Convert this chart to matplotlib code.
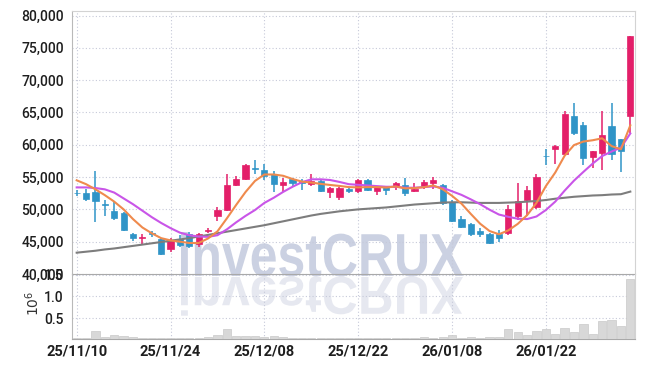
import numpy as np
import matplotlib
matplotlib.use('Agg')
import matplotlib.pyplot as plt
from matplotlib.textpath import TextPath
from matplotlib.patches import PathPatch
from matplotlib.font_manager import FontProperties
from matplotlib.transforms import Affine2D

# trading days (YY/MM/DD)
dates = ['25/11/10', '25/11/11', '25/11/12', '25/11/13', '25/11/14',
         '25/11/17', '25/11/18', '25/11/19', '25/11/20', '25/11/21',
         '25/11/24', '25/11/25', '25/11/26', '25/11/27', '25/11/28',
         '25/12/01', '25/12/02', '25/12/03', '25/12/04', '25/12/05',
         '25/12/08', '25/12/09', '25/12/10', '25/12/11', '25/12/12',
         '25/12/15', '25/12/16', '25/12/17', '25/12/18', '25/12/19',
         '25/12/22', '25/12/23', '25/12/24', '25/12/26', '25/12/29',
         '25/12/30', '26/01/02', '26/01/05', '26/01/06', '26/01/07',
         '26/01/08', '26/01/09', '26/01/12', '26/01/13', '26/01/14',
         '26/01/15', '26/01/16', '26/01/19', '26/01/20', '26/01/21',
         '26/01/22', '26/01/23', '26/01/26', '26/01/27', '26/01/28',
         '26/01/29', '26/01/30', '26/02/02', '26/02/03', '26/02/04']

opens = [52600, 52600, 52700, 50750, 49700, 49400, 46200, 45550, 46250, 45450,
         43800, 45450, 46200, 44600, 46650, 49000, 49900, 53850, 54750, 56350,
         56050, 55400, 53700, 54650, 54450, 53900, 54450, 52700, 51850, 53150,
         52850, 54600, 52850, 53450, 53450, 53800, 52800, 53550, 54150, 53850,
         51200, 48550, 47700, 46600, 46250, 46200, 46300, 48950, 51400, 50400,
         58300, 59300, 58600, 64450, 63000, 58100, 58700, 62850, 60850, 64450]
highs = [52950, 53100, 55900, 51400, 51300, 49600, 46400, 46200, 46650, 45500,
         45600, 46100, 46500, 46400, 47100, 50350, 55500, 55150, 56950, 57700,
         56950, 56000, 54850, 54850, 54700, 55400, 54550, 53400, 53400, 53400,
         54750, 54650, 53600, 53600, 54200, 54850, 54150, 54500, 54950, 53900,
         51400, 49000, 47900, 47100, 46400, 46750, 50700, 54050, 53550, 55500,
         59300, 60000, 65200, 66500, 63500, 59050, 65300, 66450, 60900, 76800]
lows = [52050, 51250, 48000, 49050, 48300, 46600, 45100, 44450, 45700, 43000,
        43400, 44200, 44100, 44200, 46350, 48200, 49700, 53650, 54500, 55550,
        54500, 52750, 52700, 53550, 53050, 53650, 52650, 51800, 51400, 52600,
        52500, 52800, 52300, 52300, 52950, 52100, 52700, 53100, 53200, 50700,
        48100, 47100, 45850, 45650, 44600, 44950, 46100, 48400, 48900, 50100,
        56800, 57100, 58450, 61450, 56900, 56400, 56150, 57700, 55800, 61850]
closes = [52500, 51600, 51300, 50700, 48700, 46800, 45500, 45800, 46200, 43150,
          45300, 44550, 44300, 46250, 46800, 49950, 53850, 54750, 56800, 56250,
          55150, 53900, 54250, 54050, 54150, 54450, 52850, 53300, 53300, 52850,
          54500, 52950, 53450, 52950, 54150, 52550, 53200, 54250, 54550, 50950,
          48200, 47250, 46150, 46200, 44800, 45600, 50000, 51250, 52950, 55000,
          58200, 59750, 64800, 61800, 57950, 59000, 61450, 58600, 59050, 76800]

# volume in millions of shares
volume = [0.05, 0.05, 0.20, 0.06, 0.11, 0.08, 0.06, 0.05, 0.05, 0.05,
          0.045, 0.045, 0.05, 0.05, 0.06, 0.12, 0.25, 0.09, 0.09, 0.08,
          0.06, 0.09, 0.06, 0.05, 0.045, 0.05, 0.045, 0.04, 0.045, 0.04,
          0.05, 0.045, 0.04, 0.045, 0.04, 0.05, 0.045, 0.06, 0.05, 0.06,
          0.115, 0.05, 0.07, 0.05, 0.07, 0.07, 0.25, 0.18, 0.115, 0.20,
          0.25, 0.14, 0.28, 0.18, 0.37, 0.14, 0.43, 0.46, 0.31, 1.39]

ma5 = [54500, 53900, 53100, 52200, 51200, 50000, 48500, 47200, 46300, 45550,
       45200, 45000, 44800, 44800, 45500, 46600, 48600, 50700, 52700, 54400,
       55400, 55400, 55200, 54700, 54300, 54150, 53950, 53780, 53630, 53450,
       53400, 53450, 53450, 53380, 53550, 53250, 53300, 53430, 53700, 53120,
       52100, 50900, 49300, 47780, 46650, 46150, 46750, 47750, 49100, 51000,
       53600, 55700, 58300, 59950, 60500, 60700, 61000, 59800, 59300, 63000]
ma10 = [53400, 53400, 53300, 53100, 52600, 51700, 50800, 49800, 48800, 47900,
        47100, 46400, 46000, 45800, 45750, 46000, 46900, 48000, 49000, 49900,
        51000, 51800, 52700, 53500, 54200, 54650, 54650, 54550, 54250, 53900,
        53800, 53700, 53600, 53500, 53500, 53350, 53350, 53450, 53550, 53350,
        52800, 52250, 51550, 50800, 49950, 49200, 48850, 48550, 48500, 48900,
        49900, 51200, 52900, 54450, 55800, 57100, 58250, 58950, 59550, 61750]
ma60 = [43300, 43450, 43600, 43800, 43950, 44150, 44350, 44550, 44750, 44950,
        45150, 45350, 45550, 45800, 46050, 46300, 46550, 46800, 47050, 47300,
        47550, 47850, 48150, 48450, 48750, 49050, 49300, 49500, 49700, 49850,
        50000, 50100, 50200, 50300, 50450, 50600, 50750, 50850, 50950, 51050,
        51100, 51100, 51050, 51000, 51000, 51000, 51050, 51100, 51200, 51300,
        51450, 51650, 51800, 51950, 52050, 52150, 52200, 52300, 52350, 52750]

UP = '#e31f69'
DOWN = '#2f94c7'
GRID = '#c6c9d9'

plt.rcParams['font.family'] = ['Roboto', 'DejaVu Sans']

fig = plt.figure(figsize=(6.45, 3.68), dpi=100)
W, H = 645, 368
ax = fig.add_axes([72 / W, 1 - 274 / H, 563 / W, 263 / H], facecolor='none')
axv = fig.add_axes([72 / W, 1 - 339 / H, 563 / W, 65 / H], facecolor='none', sharex=ax)

# watermark with its reflection
fp = FontProperties(family='Liberation Sans', weight='bold')
tp = TextPath((0, 0), 'investCRUX', size=100, prop=fp)
ext = tp.get_extents()
sx = 282 / ext.width
sy = 44 / ext.y1
base = H - 276
wm = Affine2D().translate(-ext.x0, 0).scale(sx, sy).translate(181, base)
fig.add_artist(PathPatch(tp, transform=wm, fc='#cbd1e2', ec='none', zorder=-1))
wm2 = Affine2D().translate(-ext.x0, 0).scale(sx, -sy * 0.88).translate(181, base - 1)
fig.add_artist(PathPatch(tp, transform=wm2, fc='#e6e8f0', ec='none', zorder=-1))

x = np.arange(len(dates))
o = np.array(opens)
c = np.array(closes)
cols = np.where(c >= o, UP, DOWN)

# candles
ax.vlines(x, lows, highs, colors=cols, lw=1.1, zorder=3)
body = np.maximum(np.abs(c - o), 110)
ax.bar(x, body, 0.66, bottom=np.minimum(o, c), color=cols, edgecolor=cols,
       lw=0.5, zorder=4)

# moving averages
ax.plot(x, ma60, color='#7d7d7d', lw=1.5, zorder=5)
ax.plot(x, ma10, color='#c955e8', lw=1.5, zorder=5)
ax.plot(x, ma5, color='#ef8a4d', lw=1.5, zorder=6)

ax.set_xlim(-0.5, len(dates) - 0.5)
ax.set_ylim(40000, 80700)
ax.set_yticks(range(40000, 80001, 5000))
ax.set_yticklabels(['{:,}'.format(v) for v in range(40000, 80001, 5000)],
                   fontweight='medium')
ax.set_xticks(x[::10])
ax.tick_params(axis='x', labelbottom=False, length=0)
ax.tick_params(axis='y', length=0, pad=6, labelsize=10, labelcolor='#1e1e1e')
ax.grid(True, ls=(0, (1, 2)), color=GRID, lw=0.8)
ax.set_axisbelow(True)
for s in ['top', 'right']:
    ax.spines[s].set_color('#d3d3d3')
ax.spines['left'].set_color('#b9b9b9')
ax.spines['bottom'].set_color('#a9a9a9')
ax.spines['bottom'].set_linewidth(0.8)

# volume
axv.bar(x, volume, 0.88, color='#d8d8d8', edgecolor='#c9c9c9', lw=0.5, zorder=3)
axv.set_ylim(0.02, 1.516)
axv.set_yticks([0.5, 1.0, 1.5])
axv.set_yticklabels(['0.5', '1.0', '1.5'], fontweight='medium')
axv.set_xticks(x[::10])
axv.set_xticklabels(dates[::10], fontweight='bold')
axv.tick_params(axis='x', length=0, pad=4, labelsize=10.5, labelcolor='#1e1e1e')
axv.tick_params(axis='y', length=0, pad=6, labelsize=10, labelcolor='#1e1e1e')
axv.grid(True, ls=(0, (1, 2)), color=GRID, lw=0.8)
axv.set_axisbelow(True)
axv.spines['top'].set_visible(False)
axv.spines['right'].set_color('#d3d3d3')
axv.spines['left'].set_color('#b9b9b9')
axv.spines['bottom'].set_color('#a9a9a9')
fig.text(33 / W, 1 - 303 / H, r'$10^6$', rotation=90, ha='center', va='center',
         fontsize=10, color='#333333')

fig.savefig('out.png', dpi=100, facecolor='white')
